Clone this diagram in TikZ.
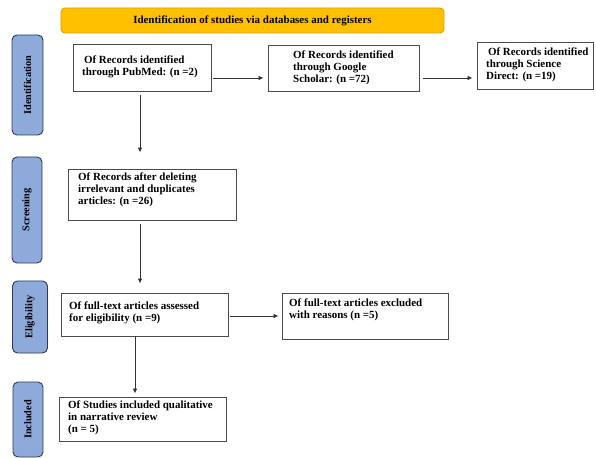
\documentclass[tikz,border=0pt]{standalone}
\usepackage{fontspec}
\setmainfont{Liberation Serif}
\usetikzlibrary{arrows.meta,positioning}
\definecolor{banfill}{HTML}{FFC000}
\definecolor{banline}{HTML}{D9A400}
\definecolor{tabfill}{HTML}{8EAADB}
\definecolor{tabline}{HTML}{2B3A55}
\definecolor{boxline}{HTML}{4A4A4A}
\tikzset{
  box/.style={draw=boxline, line width=0.9pt, inner sep=0pt},
  tab/.style={draw=tabline, fill=tabfill, line width=0.9pt, rounded corners=5pt, inner sep=0pt},
  txt/.style={anchor=north west, align=left, inner sep=0pt, font=\fontsize{11}{12}\selectfont\bfseries},
  tabtxt/.style={rotate=90, inner sep=0pt, font=\fontsize{10.3}{11}\selectfont\bfseries},
  arr/.style={-{Latex[length=5pt,width=4.5pt]}, line width=0.8pt, draw=black!80}
}
\begin{document}
\begin{tikzpicture}[x=1bp,y=-1bp]
\useasboundingbox (0,0) rectangle (596,458);
% banner
\node[draw=banline, fill=banfill, line width=0.9pt, rounded corners=4pt, minimum width=383bp, minimum height=25bp, inner sep=0pt, font=\fontsize{11}{12}\selectfont\bfseries] (banner) at (252.5,20.5) {Identification of studies via databases and registers};
% side tabs
\node[tab, minimum width=31bp, minimum height=100bp] (tid) at (27.5,85) {};
\node[tabtxt] (tidt) at (tid.center) {Identification};
\node[tab, minimum width=30bp, minimum height=106bp] (tsc) at (27,210) {};
\node[tabtxt] (tsct) at (tsc.center) {Screening};
\node[tab, minimum width=35bp, minimum height=72bp] (tel) at (30,317) {};
\node[tabtxt] (telt) at (tel.center) {Eligibility};
\node[tab, minimum width=30bp, minimum height=75bp] (tin) at (28,419.5) {};
\node[tabtxt] (tint) at (tin.center) {Included};
% boxes
\node[box, minimum width=138bp, minimum height=47bp] (pub) at (142,67.5) {};
\node[txt] (pubt) at (82,56) {\,Of Records identified\\through PubMed: (n =2)};
\node[box, minimum width=151bp, minimum height=46bp] (gs) at (343.5,68) {};
\node[txt] (gst) at (293,51) {Of Records identified\\through Google\\Scholar: (n =72)};
\node[box, minimum width=116bp, minimum height=47bp] (sd) at (535,65.5) {};
\node[txt] (sdt) at (486,48) {\,Of Records identified\\through Science\\Direct: (n =19)};
\node[box, minimum width=168bp, minimum height=51bp] (scr) at (152,194.5) {};
\node[txt] (scrt) at (78,173) {Of Records after deleting\\irrelevant and duplicates\\articles: (n =26)};
\node[box, minimum width=167bp, minimum height=43bp] (elg) at (144.5,314.5) {};
\node[txt] (elgt) at (69,302) {Of full-text articles assessed\\for eligibility (n =9)};
\node[box, minimum width=166bp, minimum height=46bp] (exc) at (365,316) {};
\node[txt] (exct) at (289,299) {Of full-text articles excluded\\with reasons (n =5)};
\node[box, minimum width=167bp, minimum height=44bp] (inc) at (142.5,419) {};
\node[txt] (inct) at (68,401) {Of Studies included qualitative\\in narrative review\\(n = 5)};
% arrows
\draw[arr, shorten <=2bp, shorten >=4bp] (pub.east |- 0,78) -- (gs.west |- 0,78);
\draw[arr, shorten <=4bp, shorten >=4bp] (gs.east |- 0,78) -- (sd.west |- 0,78);
\draw[arr, shorten <=4bp, shorten >=16bp] (pub.south -| 140,0) -- (scr.north -| 140,0);
\draw[arr, shorten <=4bp, shorten >=9bp] (scr.south -| 140,0) -- (elg.north -| 140,0);
\draw[arr, shorten <=2bp, shorten >=3bp] (elg.east |- 0,316) -- (exc.west |- 0,316);
\draw[arr, shorten >=3bp] (elg.south -| 135,0) -- (inc.north -| 135,0);
\end{tikzpicture}
\end{document}
